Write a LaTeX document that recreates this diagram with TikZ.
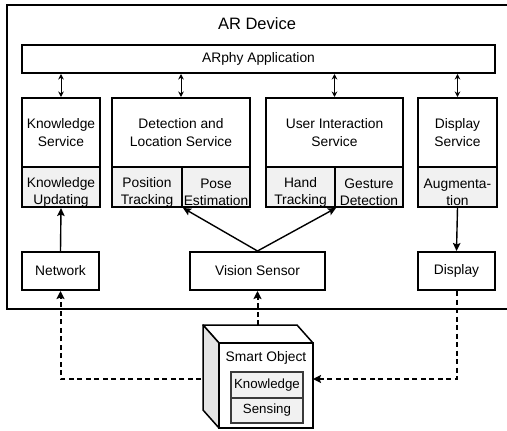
\documentclass[tikz,border=0pt]{standalone}
\usepackage{fontspec}
\setmainfont{Liberation Sans}
\usetikzlibrary{arrows.meta}
\definecolor{cellgray}{HTML}{F1F1F1}
\definecolor{sidegray}{HTML}{E4E4E4}
\definecolor{darkrim}{HTML}{3A3A3A}
\tikzset{
  box/.style={draw=black, line width=2pt, fill=white, align=center, inner sep=0pt, font=\fontsize{13.8}{17.5}\selectfont},
  cell/.style={box, fill=cellgray},
  celltext/.style={align=center, inner sep=0pt, font=\fontsize{13.8}{17}\selectfont},
  conn/.style={line width=1.4pt, -{Stealth[length=8pt,width=7.5pt,inset=1.5pt]}},
  dbl/.style={line width=1pt, {Stealth[length=5.5pt,width=5.5pt]}-{Stealth[length=5.5pt,width=5.5pt]}},
  dconn/.style={line width=2pt, dash pattern=on 5pt off 3.5pt, -{Stealth[length=8pt,width=8pt,inset=1.5pt]}},
  inner/.style={draw=darkrim, line width=2pt, fill=cellgray, align=center, inner sep=0pt, font=\fontsize{13.3}{15}\selectfont}
}
\begin{document}
\begin{tikzpicture}[x=1pt,y=-1pt]
\useasboundingbox (0,0) rectangle (507,431);
\clip (0,0) rectangle (507,431);
% outer AR device frame
\draw[line width=2.8pt] (7,5) rectangle (540,309);
\node[font=\fontsize{16.5}{19}\selectfont] (ardev) at (257,24) {AR Device};
% application
\node[box, minimum width=473pt, minimum height=28pt] (app) at (258.5,59) {ARphy Application};
% services
\node[box, minimum width=78pt, minimum height=69pt] (ks) at (61,132.5) {Knowledge\\Service};
\node[cell, minimum width=78pt, minimum height=40pt] (ku) at (61,187) {};
\node[box, minimum width=138pt, minimum height=69pt] (dls) at (181,132.5) {Detection and\\Location Service};
\node[cell, minimum width=70pt, minimum height=40pt] (pt) at (147,187) {};
\node[cell, minimum width=68pt, minimum height=40pt] (pe) at (216,187) {};
\node[box, minimum width=137pt, minimum height=69pt] (uis) at (334.5,132.5) {User Interaction\\Service};
\node[cell, minimum width=69pt, minimum height=40pt] (ht) at (300.5,187) {};
\node[cell, minimum width=68pt, minimum height=40pt] (gd) at (369,187) {};
\node[box, minimum width=79pt, minimum height=69pt] (dss) at (457.5,132.5) {Display\\Service};
\node[cell, minimum width=79pt, minimum height=40pt] (aug) at (457.5,187) {};
% cell texts (sit low in their cells)
\node[celltext] (kut) at ([yshift=-5pt]ku.center) {Knowledge\\Updating};
\node[celltext] (ptt) at ([yshift=-5pt]pt.center) {Position\\Tracking};
\node[celltext] (pet) at ([yshift=-5pt]pe.center) {Pose\\Estimation};
\node[celltext] (htt) at ([yshift=-5pt]ht.center) {Hand\\Tracking};
\node[celltext] (gdt) at ([yshift=-5pt]gd.center) {Gesture\\Detection};
\node[celltext] (augt) at ([yshift=-5pt]aug.center) {Augmenta-\\tion};
% sensors row
\node[box, minimum width=77pt, minimum height=38pt] (net) at (60.5,271) {Network};
\node[box, minimum width=135pt, minimum height=38pt] (vs) at (257.5,271) {Vision Sensor};
\node[box, minimum width=77pt, minimum height=38pt] (disp) at (456.5,271) {Display};
% app <-> services
\draw[dbl] (app.south -| ks.north) -- (ks.north);
\draw[dbl] (app.south -| dls.north) -- (dls.north);
\draw[dbl] (app.south -| uis.north) -- (uis.north);
\draw[dbl] (app.south -| dss.north) -- (dss.north);
% solid connectors
\draw[conn] (net.north) -- (ku.south);
\draw[conn] (vs.north) -- (pt.south east);
\draw[conn] (vs.north) -- (ht.south east);
\draw[conn] (aug.south) -- (disp.north);
% smart object (3D box)
\draw[line width=1.5pt, fill=white, line join=round] (219,343) -- (203,325) -- (297,325) -- (313,343) -- cycle;
\draw[line width=1.5pt, fill=sidegray, line join=round] (219,343) -- (203,325) -- (203,410) -- (219,428) -- cycle;
\node[draw=black, line width=2pt, fill=white, minimum width=94pt, minimum height=85pt, inner sep=0pt] (so) at (266,385.5) {};
\node[font=\fontsize{13.8}{16}\selectfont] (sotitle) at (266,358) {Smart Object};
\node[inner, minimum width=72pt, minimum height=26pt] (sk) at (267,385) {Knowledge};
\node[inner, minimum width=72pt, minimum height=25pt] (ss) at (267,410.5) {Sensing};
\coordinate (soL) at (201,379);
\coordinate (soT) at (257.5,325);
\coordinate (soR) at (313,379);
% dashed connectors
\draw[dconn] (soL) -| (net.south);
\draw[dconn] (soT) -- (vs.south);
\draw[dconn] (disp.south) |- (soR);
\end{tikzpicture}
\end{document}
